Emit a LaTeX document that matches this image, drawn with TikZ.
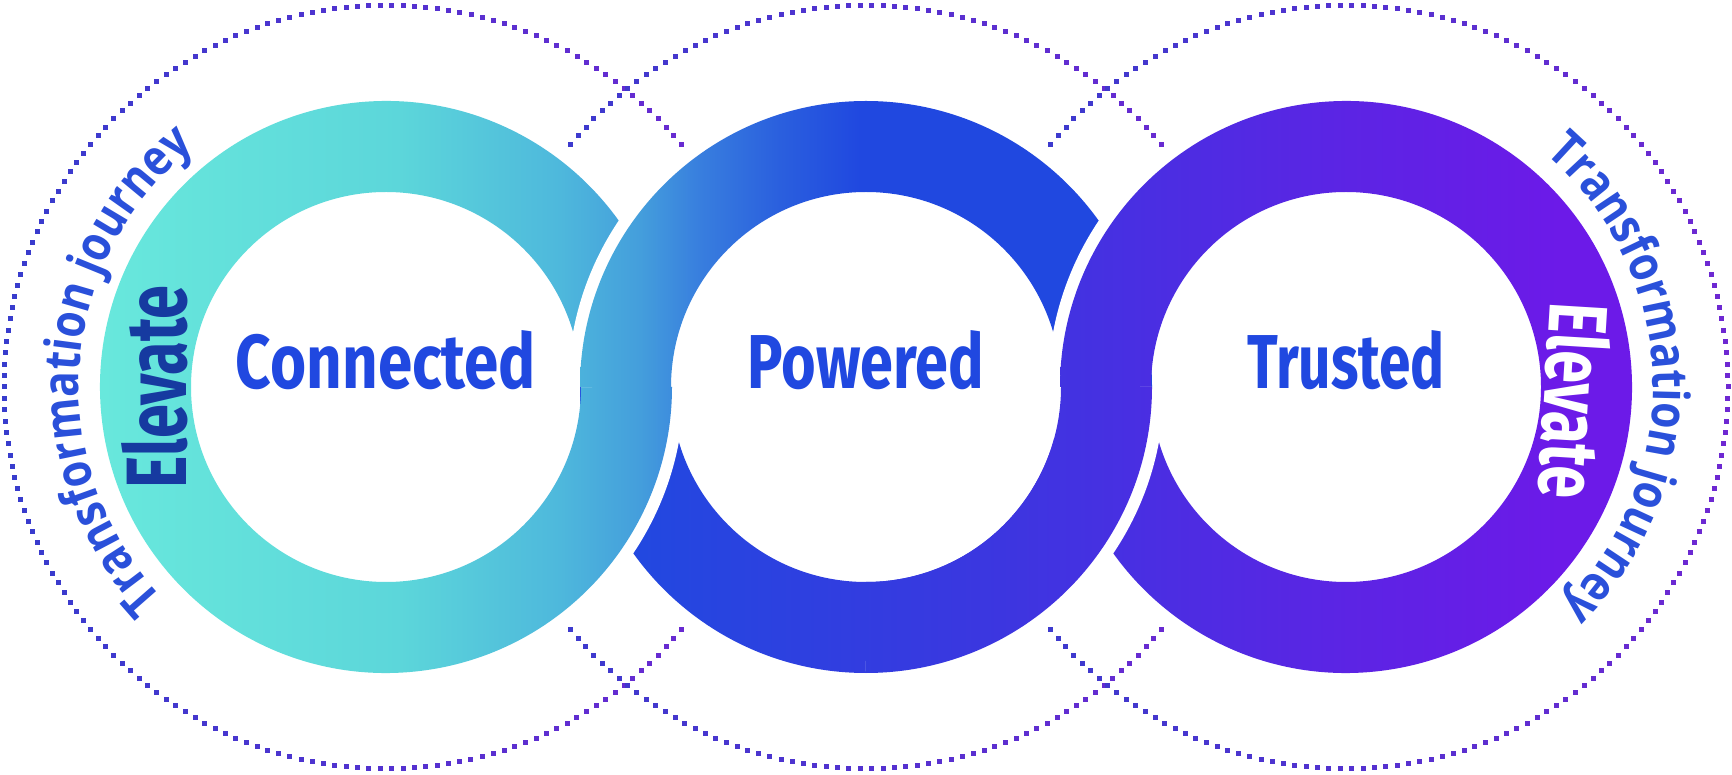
\documentclass[tikz,border=0pt]{standalone}
\usepackage{fontspec}
\usepackage{graphicx}
\usetikzlibrary{decorations.text,calc}
\newfontfamily\condfont{Fira Sans}
\newfontfamily\tjfamily{Open Sans}[FakeStretch=0.85]

\definecolor{a0}{RGB}{104,232,220}
\definecolor{a1}{RGB}{92,214,218}
\definecolor{a2}{RGB}{78,184,220}
\definecolor{a3}{RGB}{68,158,220}
\definecolor{a4}{RGB}{56,126,222}
\definecolor{a5}{RGB}{42,95,222}
\definecolor{a6}{RGB}{32,72,224}
\definecolor{b0}{RGB}{34,72,224}
\definecolor{b1}{RGB}{60,54,224}
\definecolor{b2}{RGB}{74,46,226}
\definecolor{b3}{RGB}{92,36,228}
\definecolor{b4}{RGB}{108,26,232}
\definecolor{dotblue}{RGB}{55,60,205}
\definecolor{dotpurple}{RGB}{110,40,210}
\definecolor{txtblue}{RGB}{32,72,224}
\definecolor{tjblue}{RGB}{42,80,218}
\definecolor{elevnavy}{RGB}{22,58,160}

\pgfdeclarehorizontalshading{gradA}{100bp}{color(0bp)=(a0); color(27.89bp)=(a0); color(36.55bp)=(a1); color(41.17bp)=(a2); color(43.48bp)=(a3); color(45.21bp)=(a4); color(47.52bp)=(a5); color(49.83bp)=(a6); color(100bp)=(a6)}
\pgfdeclarehorizontalshading{gradB}{100bp}{color(0bp)=(b0); color(43.48bp)=(b0); color(53.87bp)=(b1); color(58.20bp)=(b2); color(63.97bp)=(b3); color(70.03bp)=(b4); color(100bp)=(b4)}

\newcommand\tjstyle{\tjfamily\bfseries\fontsize{50}{50}\selectfont\color{tjblue}}
\newcommand\bigword[3]{\resizebox{#1pt}{#2pt}{\condfont\bfseries #3}}

\begin{document}
\begin{tikzpicture}[x=1pt,y=1pt,
  halo/.style={white, line width=24pt},
  ]
\useasboundingbox (0,0) rectangle (1732,774);
\fill[white] (0,0) rectangle (1732,774);

\coordinate (cL) at (386,387);
\coordinate (cM) at (866,387);
\coordinate (cR) at (1346,387);

% dotted circles
\foreach \cx in {386,866,1346}{
  \foreach \i in {0,...,209}{
    \pgfmathsetmacro\ang{\i*1.7142857}
    \pgfmathsetmacro\t{50+50*cos(\ang)}
    \fill[dotpurple!\t!dotblue] ($(\cx,387)+(\ang:382)+(-2.5,-2.5)$) rectangle ++(5,5);
  }
}
% masks hiding dots inside ring areas
\foreach \c in {cL,cM,cR} \fill[white] (\c) circle (298);

% 1: middle lower half (gradient B)
\begin{scope}
  \clip ($(cM)+(180:286)$) arc[start angle=180,end angle=360,radius=286] -- ++(360:-91) arc[start angle=360,end angle=180,radius=195] -- cycle;
  \shade[shading=gradB] (0,0) rectangle (1732,774);
\end{scope}

% 2: left ring (gradient A), over middle lower-left
\draw[halo] ($(cL)+(240:286)$) arc[start angle=240,end angle=360,radius=286];
\begin{scope}
  \clip ($(cL)+(8:286)$) arc[start angle=8,end angle=360,radius=286] -- ++(360:-91) arc[start angle=360,end angle=8,radius=195] -- cycle;
  \shade[shading=gradA] (0,0) rectangle (1732,774);
\end{scope}

% 3: middle upper half (gradient A), over left ring upper-right
\draw[halo] ($(cM)+(0:286)$) arc[start angle=0,end angle=180,radius=286];
\begin{scope}
  \clip ($(cM)+(0:286)$) arc[start angle=0,end angle=180,radius=286] -- ++(180:-91) arc[start angle=180,end angle=0,radius=195] -- cycle;
  \shade[shading=gradA] (0,0) rectangle (1732,774);
\end{scope}

% 4: right ring (gradient B), over middle upper-right
\draw[halo] ($(cR)+(90:286)$) arc[start angle=90,end angle=190,radius=286];
\begin{scope}
  \clip ($(cR)+(188:286)$) arc[start angle=188,end angle=540,radius=286] -- ++(540:-91) arc[start angle=540,end angle=188,radius=195] -- cycle;
  \shade[shading=gradB] (0,0) rectangle (1732,774);
\end{scope}

% 5: middle lower-right again, over right ring lower-left
\draw[halo] ($(cM)+(270:286)$) arc[start angle=270,end angle=360,radius=286];
\begin{scope}
  \clip ($(cM)+(270:286)$) arc[start angle=270,end angle=360,radius=286] -- ++(360:-91) arc[start angle=360,end angle=270,radius=195] -- cycle;
  \shade[shading=gradB] (0,0) rectangle (1732,774);
\end{scope}

% central words
\node[text=txtblue, inner sep=0pt] (connected) at (386,414) {\bigword{300}{58}{Connected}};
\node[text=txtblue, inner sep=0pt] (powered) at (866,414) {\bigword{236}{58}{Powered}};
\node[text=txtblue, inner sep=0pt] (trusted) at (1346,414) {\bigword{198}{58}{Trusted}};

% Elevate labels on the ring bands
\node[rotate=90, text=elevnavy, inner sep=0pt] (elevL) at (155,387) {\bigword{203}{65}{Elevate}};
\node[rotate=-93.5, text=white, inner sep=0pt] (elevR) at (1575,373) {\bigword{195}{63}{Elevate}};

% Transformation journey along arcs
\path[decorate, decoration={text along path, text={|\tjstyle|Transformation journey}, text align=center}]
  ($(cL)+(236:307)$) arc[start angle=236,end angle=116,radius=307];
\path[decorate, decoration={text along path, text={|\tjstyle|Transformation journey}, text align=center}]
  ($(cR)+(62:307)$) arc[start angle=62,end angle=-58,radius=307];
\end{tikzpicture}
\end{document}
